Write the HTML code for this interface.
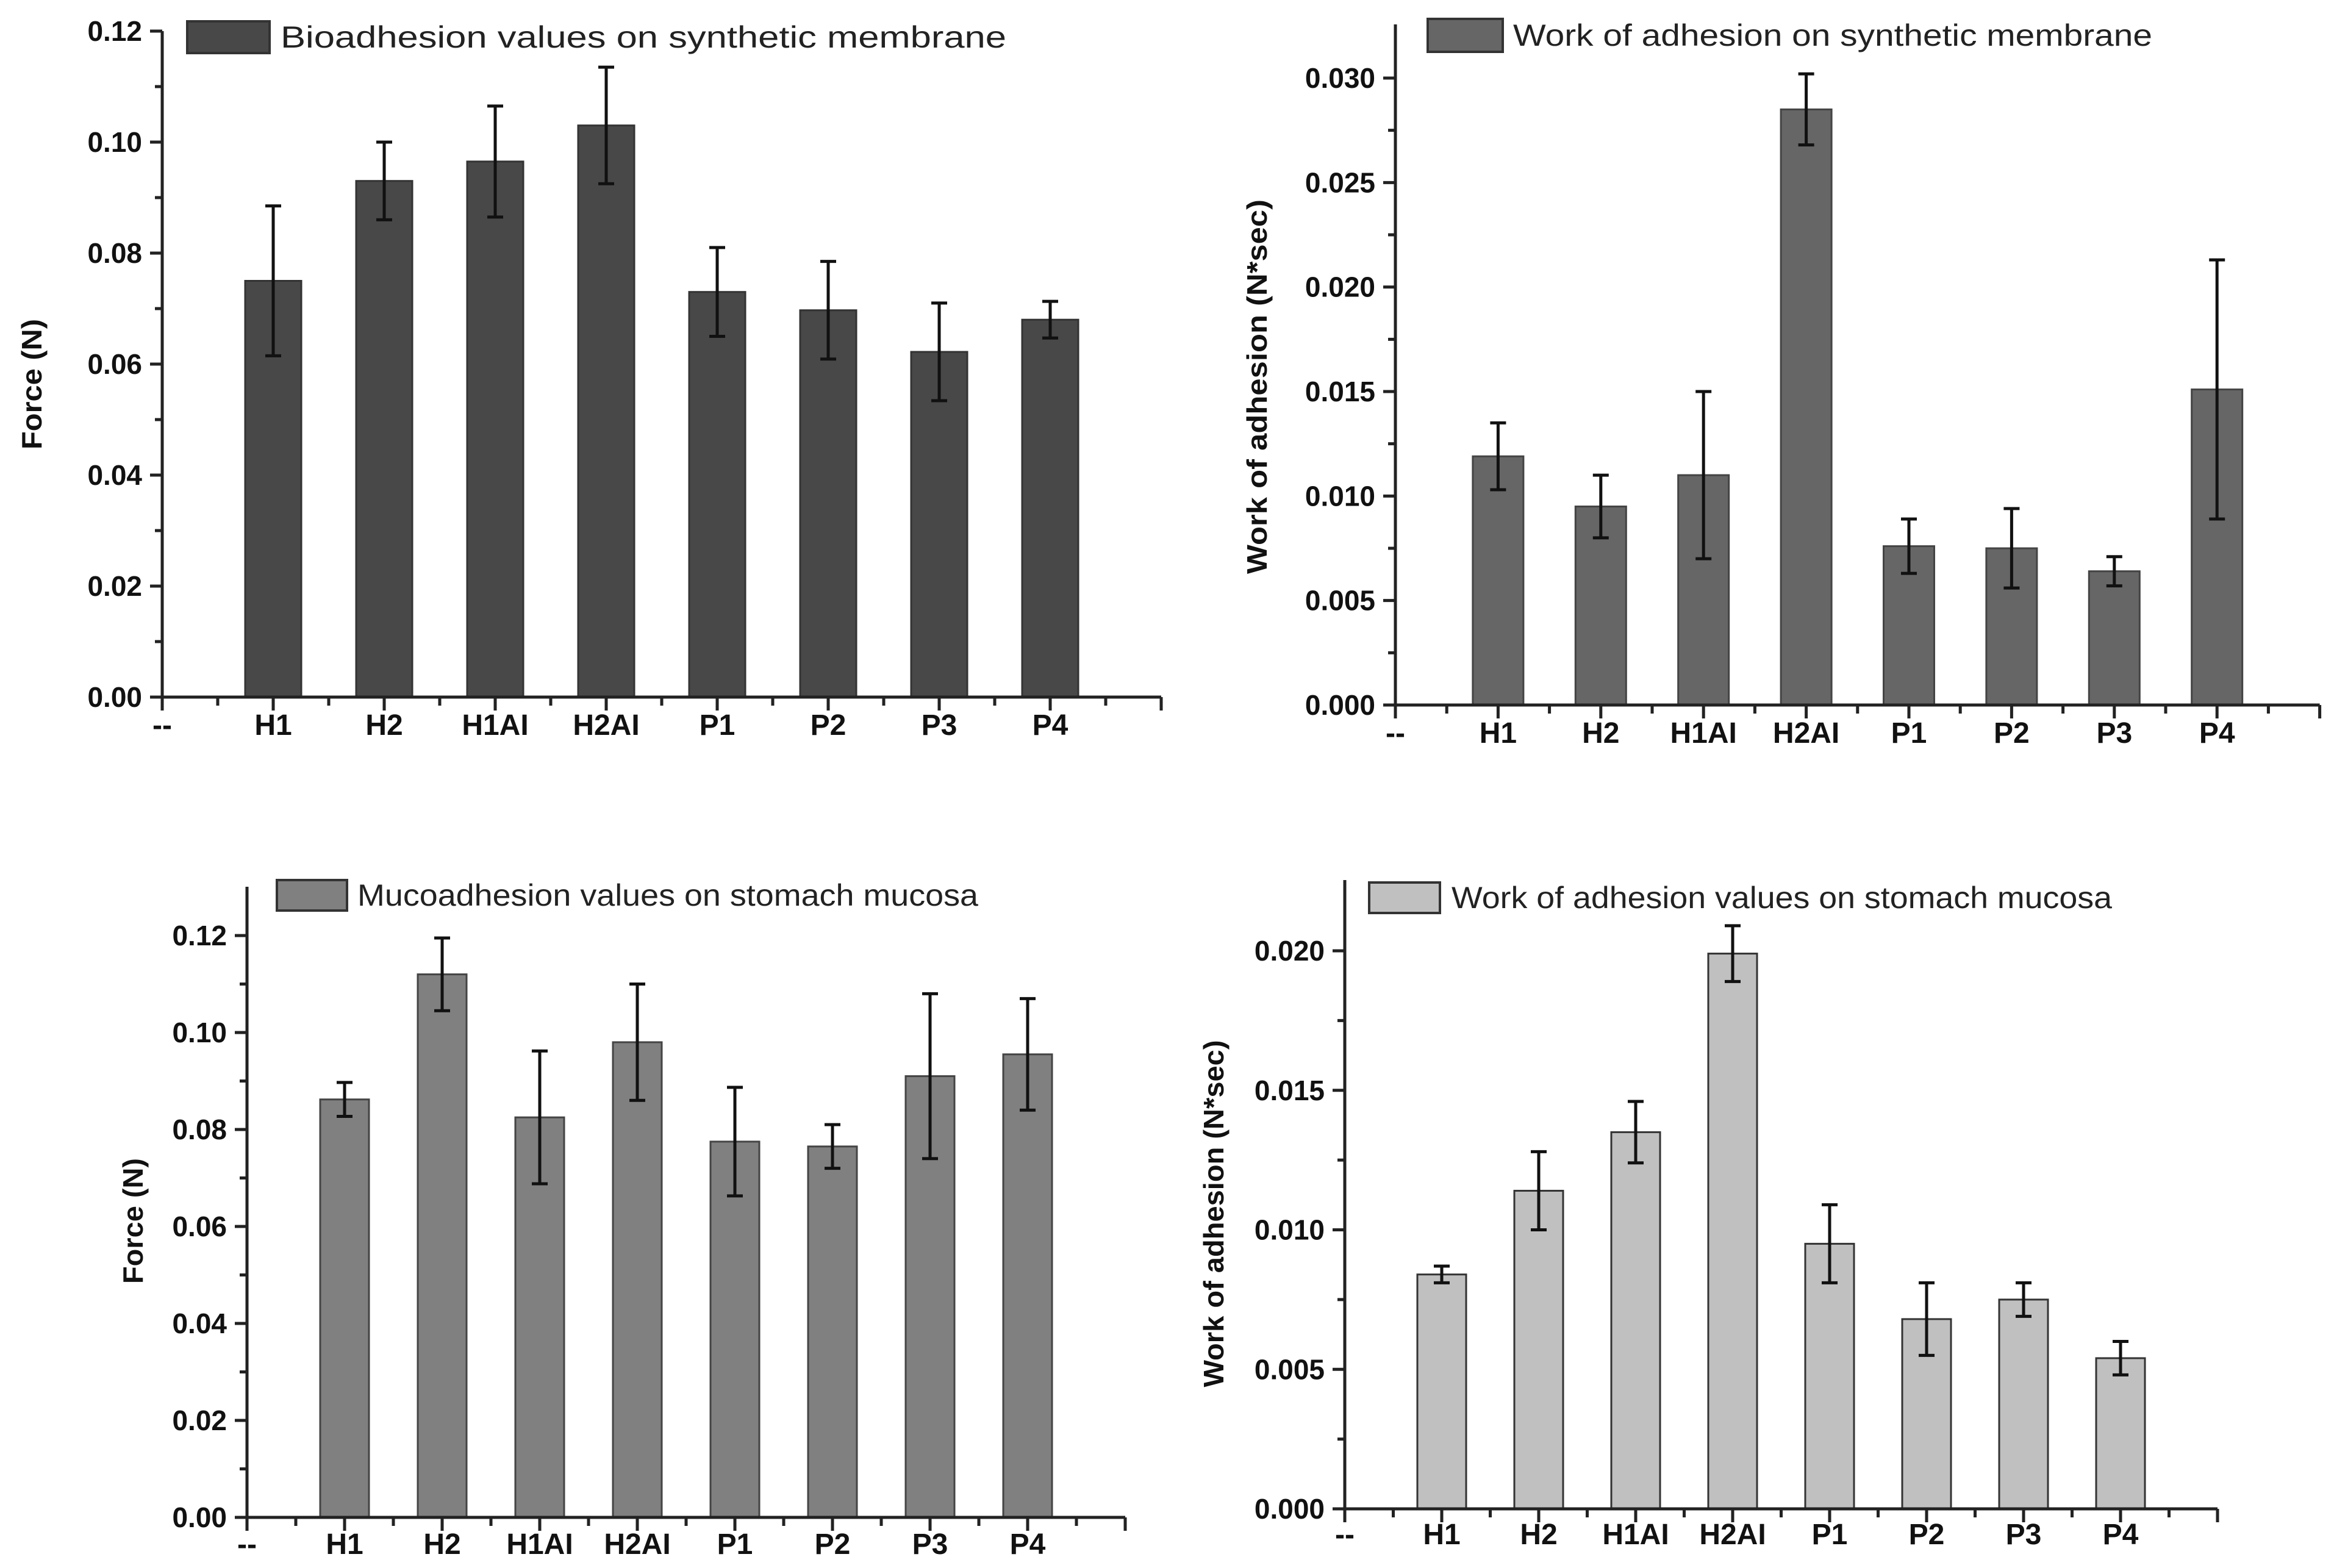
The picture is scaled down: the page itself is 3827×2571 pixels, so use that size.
<!DOCTYPE html>
<html><head><meta charset="utf-8">
<style>html,body{margin:0;padding:0;background:#fff}svg{display:block}</style>
</head><body>
<svg id="fig" width="3827" height="2571" viewBox="0 0 3827 2571" xmlns="http://www.w3.org/2000/svg" font-family="Liberation Sans, Arial, sans-serif"></svg>
<script>
const categories = ["H1","H2","H1AI","H2AI","P1","P2","P3","P4"];
// Panel A: bioadhesion on synthetic membrane (N)
const valuesA = [0.075,0.093,0.0965,0.103,0.073,0.0697,0.0622,0.068];
const errorsA = [0.0135,0.007,0.010,0.0105,0.008,0.0088,0.0088,0.0033];
const ticksA = ["0.00","0.02","0.04","0.06","0.08","0.10","0.12"];
// Panel B: work of adhesion on synthetic membrane (N*sec)
const valuesB = [0.0119,0.0095,0.011,0.0285,0.0076,0.0075,0.0064,0.0151];
const errorsB = [0.0016,0.0015,0.004,0.0017,0.0013,0.0019,0.0007,0.0062];
const ticksB = ["0.000","0.005","0.010","0.015","0.020","0.025","0.030"];
// Panel C: mucoadhesion on stomach mucosa (N)
const valuesC = [0.0862,0.112,0.0825,0.098,0.0775,0.0765,0.091,0.0955];
const errorsC = [0.0035,0.0075,0.0137,0.012,0.0112,0.0045,0.017,0.0115];
const ticksC = ["0.00","0.02","0.04","0.06","0.08","0.10","0.12"];
// Panel D: work of adhesion on stomach mucosa (N*sec)
const valuesD = [0.0084,0.0114,0.0135,0.0199,0.0095,0.0068,0.0075,0.0054];
const errorsD = [0.0003,0.0014,0.0011,0.001,0.0014,0.0013,0.0006,0.0006];
const ticksD = ["0.000","0.005","0.010","0.015","0.020"];

const NS="http://www.w3.org/2000/svg";
const svg=document.getElementById('fig');
function mk(tag,attrs,parent){const e=document.createElementNS(NS,tag);for(const k in attrs)e.setAttribute(k,attrs[k]);(parent||svg).appendChild(e);return e;}

function panel(cfg){
  const g=mk('g',{});
  
  
  const ax=cfg.ax, y0=cfg.y0, top=cfg.top;
  const nSlots=categories.length+1;
  const xEnd=ax+nSlots*cfg.step;
  const tickVals=cfg.ticks.map(Number);
  const maxT=tickVals[tickVals.length-1];
  const yScale=v=>y0-(v/maxT)*(y0-cfg.yMax);
  const xScale=i=>ax+(i+1)*cfg.step;
  cfg.values.forEach((v,i)=>{
    const cx=xScale(i), yt=yScale(v);
    const r=mk('rect',{x:cx-cfg.bw/2,y:yt,width:cfg.bw,height:y0-yt,fill:cfg.color,stroke:cfg.stroke,'stroke-width':3},g);
    
    
    const e=cfg.errors[i], yh=yScale(v+e), yl=yScale(v-e);
    const eb=mk('path',{d:`M${cx},${yh}V${yl}M${cx-13},${yh}H${cx+13}M${cx-13},${yl}H${cx+13}`,stroke:'#111','stroke-width':5,fill:'none'},g);
    
    
  });
  const axes=mk('path',{d:`M${ax},${top}V${y0+22}M${ax-2},${y0}H${xEnd}`,stroke:'#222','stroke-width':5,fill:'none'},g);
  
  
  let d='';
  cfg.ticks.forEach((t,i)=>{
    const y=yScale(tickVals[i]);
    d+=`M${ax-20},${y}H${ax}`;
    const tx=mk('text',{x:ax-33,y:y+16,'text-anchor':'end','font-size':46,'font-weight':'bold',fill:'#111'},g);
    tx.textContent=t;
    
    
    if(i<cfg.ticks.length-1){const ym=yScale((tickVals[i]+tickVals[i+1])/2);d+=`M${ax-12},${ym}H${ax}`;}
  });
  const stepPx=yScale(tickVals[0])-yScale(tickVals[1]);
  let ym=yScale(maxT)-stepPx/2; if(ym>top+5) d+=`M${ax-12},${ym}H${ax}`;
  for(let k=0;k<=nSlots;k++){const x=ax+k*cfg.step; d+=`M${x},${y0}V${y0+22}`; if(k<nSlots) d+=`M${x+cfg.step/2},${y0}V${y0+14}`;}
  const tk=mk('path',{d:d,stroke:'#222','stroke-width':5,fill:'none'},g);
  
  
  const lab0=mk('text',{x:ax,y:cfg.xl,'text-anchor':'middle','font-size':48,'font-weight':'bold',fill:'#111'},g);
  lab0.textContent='--';
  
  
  categories.forEach((c,i)=>{
    const t=mk('text',{x:xScale(i),y:cfg.xl,'text-anchor':'middle','font-size':48,'font-weight':'bold',fill:'#111'},g);
    t.textContent=c;
    
    
  });
  const yt=mk('text',{x:0,y:0,transform:`translate(${cfg.ytx},${cfg.yty}) rotate(-90)`,'text-anchor':'middle','font-size':46,'font-weight':'bold',fill:'#111',textLength:cfg.ytl,lengthAdjust:'spacingAndGlyphs'},g);
  yt.textContent=cfg.ytitle;
  
  
  const lb=mk('rect',{x:cfg.lg[0],y:cfg.lg[1],width:cfg.lg[2]-cfg.lg[0],height:cfg.lg[3]-cfg.lg[1],fill:cfg.color,stroke:'#333','stroke-width':4},g);
  
  
  const lt=mk('text',{x:cfg.lt[0],y:(cfg.lg[1]+cfg.lg[3])/2+17,'font-size':50,fill:'#222',textLength:cfg.lt[1]-cfg.lt[0],lengthAdjust:'spacingAndGlyphs'},g);
  lt.textContent=cfg.legend;
  
  
}

panel({name:'panel-bioadhesion-synthetic',values:valuesA,errors:errorsA,ticks:ticksA,ax:266,y0:1143,yMax:51,top:51,step:182,bw:92,color:'#484848',stroke:'#333',xl:1205,ytx:68,yty:630,ytl:214,ytitle:'Force (N)',lg:[307,35,442,87],lt:[460,1650],legend:'Bioadhesion values on synthetic membrane'});
panel({name:'panel-work-synthetic',values:valuesB,errors:errorsB,ticks:ticksB,ax:2288,y0:1156,yMax:128,top:40,step:168.4,bw:83,color:'#666666',stroke:'#444',xl:1218,ytx:2077,yty:634,ytl:614,ytitle:'Work of adhesion (N*sec)',lg:[2341,31,2464,85],lt:[2481,3529],legend:'Work of adhesion on synthetic membrane'});
panel({name:'panel-mucoadhesion-stomach',values:valuesC,errors:errorsC,ticks:ticksC,ax:405,y0:2488,yMax:1534,top:1454,step:160,bw:80,color:'#808080',stroke:'#444',xl:2548,ytx:234,yty:2002,ytl:206,ytitle:'Force (N)',lg:[454,1443,569,1493],lt:[586,1604],legend:'Mucoadhesion values on stomach mucosa'});
panel({name:'panel-work-stomach',values:valuesD,errors:errorsD,ticks:ticksD,ax:2205,y0:2474,yMax:1559,top:1443,step:159,bw:80,color:'#c0c0c0',stroke:'#333',xl:2532,ytx:2006,yty:1990,ytl:569,ytitle:'Work of adhesion (N*sec)',lg:[2245,1447,2361,1497],lt:[2380,3463],legend:'Work of adhesion values on stomach mucosa'});
</script>
</body></html>
